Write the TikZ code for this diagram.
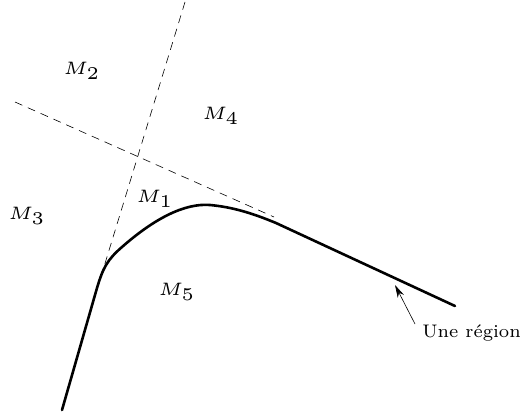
\documentclass[tikz,border=0pt]{standalone}
\usetikzlibrary{arrows.meta}
\tikzset{
    mlabel/.style={font=\fontsize{5}{6}\selectfont, scale=3.6, inner sep=0.3pt},
    tlabel/.style={font=\fontsize{7}{8}\selectfont, scale=2.6, inner sep=0.3pt, anchor=base west},
    guide/.style={dashed, dash pattern=on 8pt off 6pt, line width=0.6pt},
    border/.style={line width=2.6pt, line cap=round, line join=round},
    qline/.style={-{Stealth[length=4.5mm, width=2.4mm]}, line width=0.6pt}
}
\begin{document}
\begin{tikzpicture}[x=1pt, y=-1pt]
            \useasboundingbox (0,0) rectangle (526,415);
            \coordinate (g1a) at (185,2);
            \coordinate (g1b) at (103,270);
            \coordinate (g2a) at (15,102);
            \coordinate (g2b) at (274,217);
            \coordinate (tip) at (395,285);

            \draw[guide] (g1a) -- (g1b);
            \draw[guide] (g2a) -- (g2b);

            \draw[border] (62,410) -- (97,288)
                .. controls (103,268) and (107,260) .. (122,247)
                .. controls (155,218) and (185,203) .. (210,205)
                .. controls (232,207) and (252,213) .. (276,223)
                -- (455,306);

            \node[mlabel] (m2) at (82,71) {$M_2$};
            \node[mlabel] (m4) at (221,116) {$M_4$};
            \node[mlabel] (m3) at (27,216) {$M_3$};
            \node[mlabel] (m1) at (155,199) {$M_1$};
            \node[mlabel] (m5) at (177,292) {$M_5$};

            \node[tlabel] (lbl) at (421,337) {Une région};
            \coordinate (tail) at (415,324);
            \draw[qline] (tail) -- (tip);
        \end{tikzpicture}
\end{document}
